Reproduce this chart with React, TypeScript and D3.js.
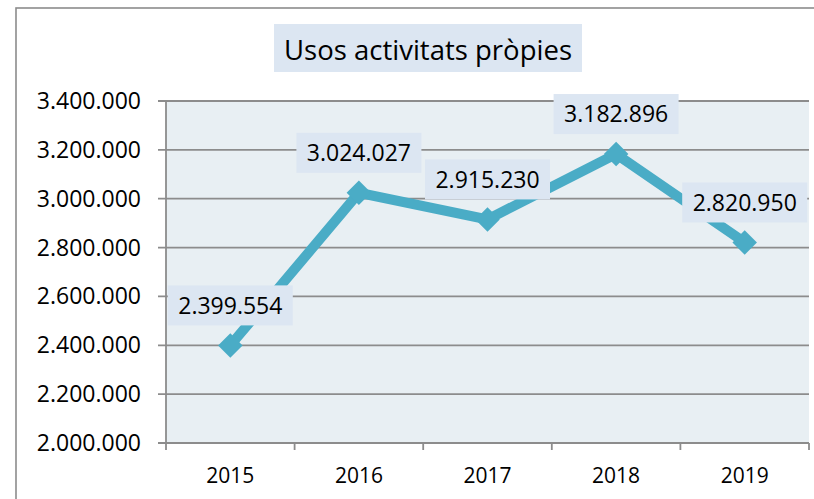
import React from 'react';
import * as d3 from 'd3';

const years = ['2015', '2016', '2017', '2018', '2019'];
const values = [2399554, 3024027, 2915230, 3182896, 2820950];
const yTicks = [2000000, 2200000, 2400000, 2600000, 2800000, 3000000, 3200000, 3400000];
const title = 'Usos activitats pròpies';

const FONT = '"Open Sans", sans-serif';
const GRID = '#8c8c8c';
const LINE = '#4aacc6';
const LABEL_BG = '#dce6f2';
const PLOT_BG = '#e8eff3';

export default function App() {
  const W = 814;
  const H = 499;
  const x = d3.scaleBand<string>().domain(years).range([166, 809]).padding(0);
  const y = d3.scaleLinear().domain([2000000, 3400000]).range([443, 101]);
  const loc = d3.formatLocale({ decimal: ',', thousands: '.', grouping: [3], currency: ['', '€'] });
  const fmt = loc.format(',');
  const cx = (i: number) => (x(years[i]) as number) + x.bandwidth() / 2;
  const line = d3
    .line<number>()
    .x((_, i) => cx(i))
    .y((d) => y(d));
  const diamond = d3.symbol().type(d3.symbolSquare).size(300)();
  const [x0, x1] = x.range();
  const [yb, yt] = y.range();

  return (
    <svg
      width={W}
      height={H}
      style={{ position: 'absolute', left: 0, top: 0, display: 'block' }}
      fontFamily={FONT}
    >
      <rect x={0} y={0} width={W} height={H} fill="#fff" />
      <rect x={16} y={8} width={840} height={530} fill="#fff" stroke={GRID} strokeWidth={1.6} />
      {/* title */}
      <rect x={274} y={24} width={308} height={48} fill={LABEL_BG} />
      <text
        x={428}
        y={60}
        textAnchor="middle"
        fontSize={27.5}
        fill="#000"
        textLength={288}
        lengthAdjust="spacingAndGlyphs"
      >
        {title}
      </text>
      {/* plot background */}
      <rect x={x0} y={yt} width={x1 - x0} height={yb - yt} fill={PLOT_BG} />
      {/* gridlines + y ticks */}
      {yTicks.map((t) => (
        <g key={t}>
          <line x1={x0 - 8} x2={x1} y1={y(t)} y2={y(t)} stroke={GRID} strokeWidth={1.8} />
          <text x={141} y={y(t) + 8} textAnchor="end" fontSize={23} fill="#000">
            {fmt(t)}
          </text>
        </g>
      ))}
      {/* y axis line */}
      <line x1={x0} x2={x0} y1={yt} y2={yb} stroke={GRID} strokeWidth={1.8} />
      {/* x ticks */}
      {[...years.map((yr) => x(yr) as number), x1].map((p, i) => (
        <line key={i} x1={p} x2={p} y1={yb} y2={yb + 7} stroke={GRID} strokeWidth={1.8} />
      ))}
      {years.map((yr, i) => (
        <text key={yr} x={cx(i)} y={483} textAnchor="middle" fontSize={21} fill="#000">
          {yr}
        </text>
      ))}
      {/* series */}
      <path d={line(values) || ''} fill="none" stroke={LINE} strokeWidth={10} strokeLinejoin="miter" />
      {values.map((v, i) => (
        <path key={i} d={diamond || ''} transform={`translate(${cx(i)},${y(v)}) rotate(45)`} fill={LINE} />
      ))}
      {/* data labels */}
      {values.map((v, i) => (
        <g key={i} transform={`translate(${cx(i)},${y(v) - 40})`}>
          <rect x={-62.5} y={-20} width={125} height={40} fill={LABEL_BG} />
          <text x={0} y={8.3} textAnchor="middle" fontSize={23} fill="#000">
            {fmt(v)}
          </text>
        </g>
      ))}
    </svg>
  );
}
